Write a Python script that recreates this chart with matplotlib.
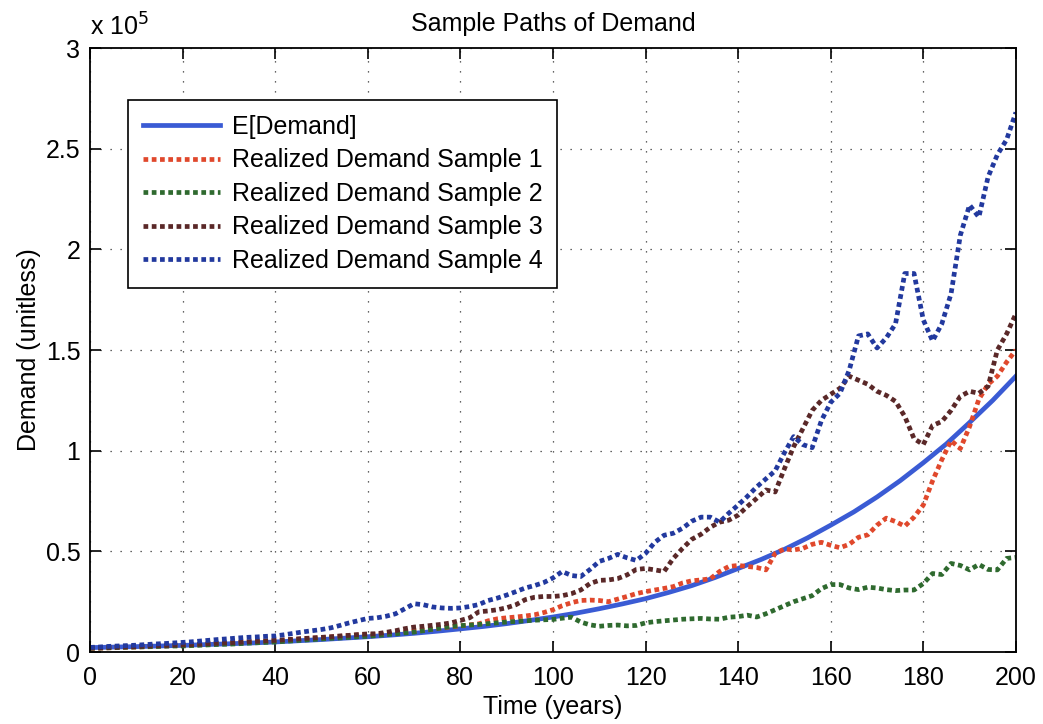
import numpy as np
import matplotlib
matplotlib.use("Agg")
import matplotlib.pyplot as plt

plt.rcParams['font.family'] = ['Liberation Sans', 'DejaVu Sans']

# time axis (years), one value every 2 years
years = np.arange(0, 201, 2)

# expected demand, read every 5 years (thousands)
e_years = np.arange(0, 201, 5)
e_demand = [2.2, 2.45, 2.7, 3.0, 3.3, 3.7, 4.1, 4.5, 5.0, 5.6, 6.2, 6.9, 7.6, 8.4,
            9.3, 10.35, 11.5, 12.7, 14.1, 15.7, 17.4, 19.3, 21.5, 23.9, 26.5, 29.6,
            33.0, 37.0, 41.5, 46.0, 51.0, 56.7, 63.0, 69.6, 77.0, 85.1, 94.0, 103.4,
            114.0, 125.0, 137.0]

# realized demand samples (thousands)
sample1 = [1.8, 1.9, 2.1, 2.2, 2.4, 2.5, 2.7, 2.9, 3.0, 3.2, 3.3, 3.5, 3.7, 4.0, 4.2,
           4.4, 4.6, 4.9, 5.1, 5.3, 5.6, 5.9, 6.2, 6.6, 6.9, 7.2, 7.5, 7.8, 8.2, 8.5,
           8.8, 8.6, 9.0, 9.6, 10.1, 10.5, 10.9, 11.4, 12.0, 12.5, 13.0, 13.5, 14.0,
           15.5, 16.5, 17.0, 17.4, 17.9, 18.5, 19.6, 21.0, 23.0, 24.5, 25.6, 25.8,
           25.6, 25.0, 26.3, 27.6, 29.0, 30.0, 30.8, 31.6, 32.5, 34.3, 35.4, 35.8,
           36.4, 40.0, 42.5, 43.0, 42.5, 42.0, 40.8, 49.0, 51.2, 50.7, 51.5, 53.5,
           54.5, 53.0, 51.8, 53.5, 57.0, 58.2, 63.0, 66.5, 64.8, 62.5, 67.0, 73.0,
           85.0, 95.5, 105.0, 101.0, 112.0, 125.5, 133.0, 137.0, 144.0, 150.0]

sample2 = [1.9, 2.0, 2.1, 2.3, 2.4, 2.5, 2.6, 2.7, 2.9, 3.0, 3.0, 3.2, 3.4, 3.6, 3.8,
           3.9, 4.1, 4.4, 4.6, 4.8, 5.0, 5.3, 5.6, 5.9, 6.2, 6.5, 6.8, 7.0, 7.3, 7.6,
           7.8, 8.2, 8.6, 9.0, 9.5, 9.9, 10.6, 11.3, 12.0, 12.7, 13.1, 13.4, 13.7,
           14.1, 14.5, 14.9, 15.2, 15.5, 15.8, 16.0, 16.2, 16.8, 17.3, 14.9, 13.5,
           12.8, 13.2, 13.4, 13.0, 13.2, 14.5, 15.1, 15.5, 15.9, 16.3, 16.5, 16.7,
           16.4, 16.3, 17.3, 17.6, 18.3, 17.4, 19.0, 21.0, 23.0, 25.0, 26.5, 28.0,
           31.5, 33.5, 33.5, 31.8, 31.0, 32.2, 31.8, 31.0, 30.5, 30.8, 30.8, 34.0,
           39.0, 38.5, 44.0, 43.0, 40.8, 43.5, 41.0, 40.8, 46.5, 47.0]

sample3 = [2.0, 2.1, 2.3, 2.4, 2.6, 2.7, 2.9, 3.1, 3.2, 3.4, 3.5, 3.7, 3.9, 4.2, 4.4,
           4.6, 4.8, 5.1, 5.3, 5.6, 5.8, 6.1, 6.4, 6.7, 7.0, 7.3, 7.6, 8.0, 8.3, 8.7,
           9.0, 9.1, 9.8, 10.6, 11.6, 12.4, 12.8, 13.3, 13.8, 14.5, 15.7, 17.0, 20.0,
           20.4, 21.0, 22.0, 23.5, 26.0, 27.2, 27.6, 27.6, 28.0, 29.0, 30.8, 34.0,
           35.6, 35.8, 36.5, 38.3, 41.0, 41.5, 40.8, 40.0, 46.5, 51.5, 56.0, 58.5,
           62.0, 64.5, 65.5, 68.0, 72.3, 76.3, 80.5, 79.5, 91.0, 102.0, 111.0, 120.0,
           125.0, 128.0, 131.0, 137.0, 135.0, 133.0, 129.5, 127.5, 124.5, 117.0,
           106.0, 103.0, 112.5, 114.5, 120.0, 127.0, 129.5, 128.5, 132.0, 150.0,
           158.0, 168.0]

sample4 = [2.3, 2.5, 2.8, 3.0, 3.2, 3.4, 3.7, 4.0, 4.2, 4.5, 4.8, 5.1, 5.5, 5.9, 6.3,
           6.6, 7.0, 7.3, 7.5, 7.8, 8.0, 8.6, 9.3, 10.0, 10.6, 11.2, 12.0, 13.2, 14.5,
           15.6, 16.7, 17.0, 17.8, 19.0, 21.5, 24.0, 23.5, 22.4, 21.9, 21.7, 21.9,
           22.6, 23.6, 25.6, 26.8, 28.3, 30.0, 31.8, 33.0, 34.5, 36.8, 40.0, 38.0,
           37.5, 41.0, 45.0, 46.5, 48.5, 46.8, 45.5, 49.0, 54.5, 58.0, 59.0, 61.5,
           65.0, 67.0, 67.0, 64.5, 69.0, 73.0, 77.3, 82.0, 86.0, 90.0, 99.0, 107.0,
           103.0, 101.5, 115.0, 124.0, 128.5, 140.0, 157.0, 158.0, 151.0, 156.0,
           163.0, 188.0, 188.0, 165.0, 154.5, 163.0, 178.0, 207.0, 222.0, 216.0,
           236.0, 247.0, 254.5, 268.0]

labels = ['E[Demand]', 'Realized Demand Sample 1', 'Realized Demand Sample 2',
          'Realized Demand Sample 3', 'Realized Demand Sample 4']
colors = ['#3a5bd4', '#e0482c', '#2f6a2f', '#5a2828', '#22399e']

fs = 18

fig = plt.figure(figsize=(10.43, 7.24), dpi=100)
ax = fig.add_axes([0.0863, 0.0994, 0.8877, 0.8343])

dots = (0, (1, 0.75))
ax.plot(e_years, np.array(e_demand) * 1000, color=colors[0], lw=3.4, label=labels[0])
for vals, lab, col in zip([sample1, sample2, sample3, sample4], labels[1:], colors[1:]):
    ax.plot(years, np.array(vals) * 1000, color=col, lw=3.4, linestyle=dots, label=lab)

ax.set_xlim(0, 200)
ax.set_ylim(0, 3e5)
ax.set_xticks(np.arange(0, 201, 20))
ax.set_yticks(np.arange(0, 3.01e5, 0.5e5))
ax.set_yticklabels(['0', '0.5', '1', '1.5', '2', '2.5', '3'])
ax.tick_params(direction='in', top=True, right=True, length=8, width=1.2,
               labelsize=fs, pad=7)
ax.tick_params(axis='x', pad=10)
ax.grid(True, linestyle=(0, (1, 7)), color='#333333', linewidth=0.9)
for sp in ax.spines.values():
    sp.set_linewidth(1.3)

ax.set_title('Sample Paths of Demand', fontsize=fs, pad=12)
ax.set_xlabel('Time (years)', fontsize=fs, labelpad=4)
ax.set_ylabel('Demand (unitless)', fontsize=fs, labelpad=3)
ax.text(0.0, 1.012, r'x 10$^5$', transform=ax.transAxes, fontsize=fs,
        ha='left', va='bottom')

leg = ax.legend(loc='upper left', bbox_to_anchor=(0.041, 0.914), borderaxespad=0,
                fontsize=fs, handlelength=3.1, handletextpad=0.45,
                labelspacing=0.38, borderpad=0.6, fancybox=False, framealpha=1)
leg.get_frame().set_edgecolor('black')
leg.get_frame().set_linewidth(1.2)

fig.savefig('out.png', dpi=100)
